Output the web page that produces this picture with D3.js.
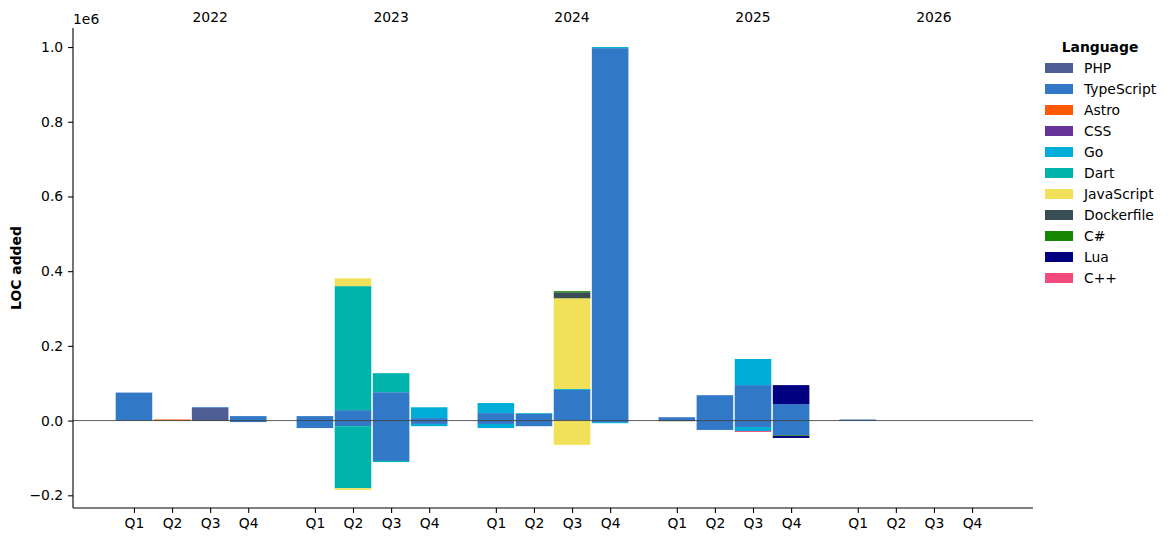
<!DOCTYPE html>
<html>
<head>
<meta charset="utf-8">
<script src="https://cdn.jsdelivr.net/npm/d3@7"></script>
<style>
  html, body { margin: 0; padding: 0; background: #fff; }
  svg { display: block; font-family: "DejaVu Sans", sans-serif; }
</style>
</head>
<body>
<svg id="chart" width="1172" height="542"></svg>
<script>
// ---------- data ----------
const years = ["2022", "2023", "2024", "2025", "2026"];
const quarters = ["Q1", "Q2", "Q3", "Q4"];
const languages = ["PHP", "TypeScript", "Astro", "CSS", "Go", "Dart", "JavaScript", "Dockerfile", "C#", "Lua", "C++"];
const colors = ["#4F5D95", "#3178c6", "#ff5a03", "#663399", "#00ADD8", "#00B4AB", "#f1e05a", "#384d54", "#178600", "#000080", "#f34b7d"];
const yTicks = [-0.2, 0.0, 0.2, 0.4, 0.6, 0.8, 1.0];

// lines added per quarter (2022Q1 .. 2026Q4)
const addedPHP        = [0, 0, 34000, 0,   0, 0, 0, 0,   0, 0, 0, 0,   0, 0, 0, 0,   0, 0, 0, 0];
const addedTypeScript = [75000, 0, 2000, 12000,   12000, 28000, 76000, 6700,   20000, 18000, 82000, 997000,   9000, 68000, 95000, 44000,   3000, 0, 0, 0];
const addedAstro      = [0, 3000, 0, 0,   0, 0, 0, 0,   0, 0, 0, 0,   0, 0, 0, 0,   0, 0, 0, 0];
const addedCSS        = [0, 0, 0, 0,   0, 0, 0, 0,   0, 0, 0, 0,   0, 0, 0, 0,   0, 0, 0, 0];
const addedGo         = [0, 0, 0, 0,   0, 0, 0, 29000,   27000, 2000, 2500, 3000,   0, 0, 70000, 0,   0, 0, 0, 0];
const addedDart       = [0, 0, 0, 0,   0, 332000, 51000, 0,   0, 0, 0, 0,   0, 0, 0, 0,   0, 0, 0, 0];
const addedJavaScript = [0, 0, 0, 0,   0, 21000, 0, 0,   0, 0, 243000, 0,   0, 0, 0, 0,   0, 0, 0, 0];
const addedDockerfile = [0, 0, 0, 0,   0, 0, 0, 0,   0, 0, 16000, 0,   0, 0, 0, 0,   0, 0, 0, 0];
const addedCSharp     = [0, 0, 0, 0,   0, 0, 0, 0,   0, 0, 3000, 0,   0, 0, 0, 0,   0, 0, 0, 0];
const addedLua        = [0, 0, 0, 0,   0, 0, 0, 0,   0, 0, 0, 0,   0, 0, 0, 51000,   0, 0, 0, 0];
const addedCpp        = [0, 0, 0, 0,   0, 0, 0, 0,   0, 0, 0, 0,   0, 0, 0, 0,   0, 0, 0, 0];

// lines removed per quarter (negative)
const removedPHP        = [0, 0, 0, 0,   0, 0, 0, 0,   0, 0, 0, 0,   0, 0, 0, 0,   0, 0, 0, 0];
const removedTypeScript = [0, 0, 0, -4000,   -20000, -15000, -108000, -9000,   -9000, -15000, 0, -4000,   0, -25000, -17000, -39000,   0, 0, 0, 0];
const removedAstro      = [0, 0, 0, 0,   0, 0, 0, 0,   0, 0, 0, 0,   0, 0, 0, 0,   0, 0, 0, 0];
const removedCSS        = [0, 0, 0, 0,   0, 0, 0, 0,   0, 0, 0, 0,   0, 0, 0, 0,   0, 0, 0, 0];
const removedGo         = [0, 0, 0, 0,   0, 0, 0, -6000,   -11000, 0, 0, -3000,   0, 0, -11000, 0,   0, 0, 0, 0];
const removedDart       = [0, 0, 0, 0,   0, -166000, -3000, 0,   0, 0, 0, 0,   0, 0, 0, 0,   0, 0, 0, 0];
const removedJavaScript = [0, 0, 0, 0,   0, -5000, 0, 0,   0, 0, -65000, 0,   0, 0, 0, 0,   0, 0, 0, 0];
const removedDockerfile = [0, 0, 0, 0,   0, 0, 0, 0,   0, 0, 0, 0,   -1500, 0, 0, 0,   0, 0, 0, 0];
const removedCSharp     = [0, 0, 0, 0,   0, 0, 0, 0,   0, 0, 0, 0,   0, 0, 0, -2000,   0, 0, 0, 0];
const removedLua        = [0, 0, 0, 0,   0, 0, 0, 0,   0, 0, 0, 0,   0, 0, 0, -5500,   0, 0, 0, 0];
const removedCpp        = [0, 0, 0, 0,   0, 0, 0, 0,   0, 0, 0, 0,   0, 0, -2500, 0,   0, 0, 0, 0];

const addedSeries = [addedPHP, addedTypeScript, addedAstro, addedCSS, addedGo, addedDart, addedJavaScript, addedDockerfile, addedCSharp, addedLua, addedCpp];
const removedSeries = [removedPHP, removedTypeScript, removedAstro, removedCSS, removedGo, removedDart, removedJavaScript, removedDockerfile, removedCSharp, removedLua, removedCpp];

(function () {
// ---------- layout ----------
const svg = d3.select("#chart");
const mLeft = 73, mRight = 1033, mTop = 28, mBottom = 508;
const yearStep = 4.75;
const barWidth = 0.96;
const fs = 13.9;

// periods
const periods = [];
years.forEach((yr, yi) => quarters.forEach((q, qi) => periods.push({ year: yr, quarter: q, pos: yi * yearStep + qi, idx: yi * 4 + qi })));

const lastPos = (years.length - 1) * yearStep + 3;
const x = d3.scaleLinear().domain([-1.6, lastPos + 1.6]).range([mLeft, mRight]);
const y = d3.scaleLinear().domain([-0.234e6, 1.051e6]).range([mBottom, mTop]);
const color = d3.scaleOrdinal().domain(languages).range(colors);

function toRows(series) {
  return periods.map(p => {
    const row = { idx: p.idx, pos: p.pos };
    languages.forEach((l, li) => row[l] = series[li][p.idx]);
    return row;
  });
}
const stack = d3.stack().keys(languages);
const posStack = stack(toRows(addedSeries));
const negStack = stack(toRows(removedSeries));

const bars = svg.append("g");
[posStack, negStack].forEach(st => {
  st.forEach(layer => {
    bars.selectAll(null)
      .data(layer.filter(d => d[1] !== d[0]))
      .enter().append("rect")
      .attr("x", d => x(d.data.pos - barWidth / 2))
      .attr("width", d => x(barWidth) - x(0))
      .attr("y", d => y(Math.max(d[0], d[1])))
      .attr("height", d => Math.abs(y(d[0]) - y(d[1])))
      .attr("fill", color(layer.key));
  });
});

// zero line
svg.append("line")
  .attr("x1", mLeft).attr("x2", mRight)
  .attr("y1", y(0)).attr("y2", y(0))
  .attr("stroke", "#333").attr("stroke-width", 0.8);

// y axis
const yAxis = svg.append("g")
  .attr("transform", `translate(${mLeft},0)`)
  .call(d3.axisLeft(y).tickValues(yTicks.map(v => v * 1e6))
    .tickFormat(v => d3.format(".1f")(v / 1e6).replace("-", "\u2212"))
    .tickSize(4.9).tickPadding(4.9));
yAxis.select(".domain").attr("stroke", "#000").attr("stroke-width", 1.1).attr("d", `M0,${mTop}V${mBottom}`);
yAxis.selectAll(".tick line").attr("stroke", "#000").attr("stroke-width", 1.1);
yAxis.selectAll("text").attr("font-size", fs).attr("fill", "#000").attr("font-family", "DejaVu Sans");

svg.append("text").attr("x", mLeft).attr("y", 24)
  .attr("font-size", fs).text("1e6");

// x axis
const xAxis = svg.append("g")
  .attr("transform", `translate(0,${mBottom})`)
  .call(d3.axisBottom(x).tickValues(periods.map(p => p.pos))
    .tickFormat((v, i) => periods[i].quarter)
    .tickSize(4.9).tickPadding(4.9));
xAxis.select(".domain").attr("stroke", "#000").attr("stroke-width", 1.1).attr("d", `M${mLeft},0H${mRight}`);
xAxis.selectAll(".tick line").attr("stroke", "#000").attr("stroke-width", 1.1);
xAxis.selectAll("text").attr("font-size", fs).attr("fill", "#000").attr("font-family", "DejaVu Sans");

// year labels on top
svg.append("g").selectAll("text")
  .data(years).enter().append("text")
  .attr("x", (d, i) => x(i * yearStep + 2))
  .attr("y", 22)
  .attr("text-anchor", "middle")
  .attr("font-size", fs)
  .text(d => d);

// y label
svg.append("text")
  .attr("transform", `translate(21,${(mTop + mBottom) / 2}) rotate(-90)`)
  .attr("text-anchor", "middle")
  .attr("font-size", fs).attr("font-weight", "bold")
  .text("LOC added");

// legend
const lg = svg.append("g").attr("transform", "translate(1045,0)");
lg.append("text").attr("x", 55).attr("y", 52).attr("text-anchor", "middle")
  .attr("font-size", fs).attr("font-weight", "bold").text("Language");
const items = lg.selectAll("g.item").data(languages).enter().append("g")
  .attr("transform", (d, i) => `translate(0,${68 + i * 21})`);
items.append("rect").attr("x", 0).attr("y", -5).attr("width", 28).attr("height", 10)
  .attr("fill", d => color(d));
items.append("text").attr("x", 39).attr("y", 5).attr("font-size", fs).text(d => d);
})();
</script>
</body>
</html>
